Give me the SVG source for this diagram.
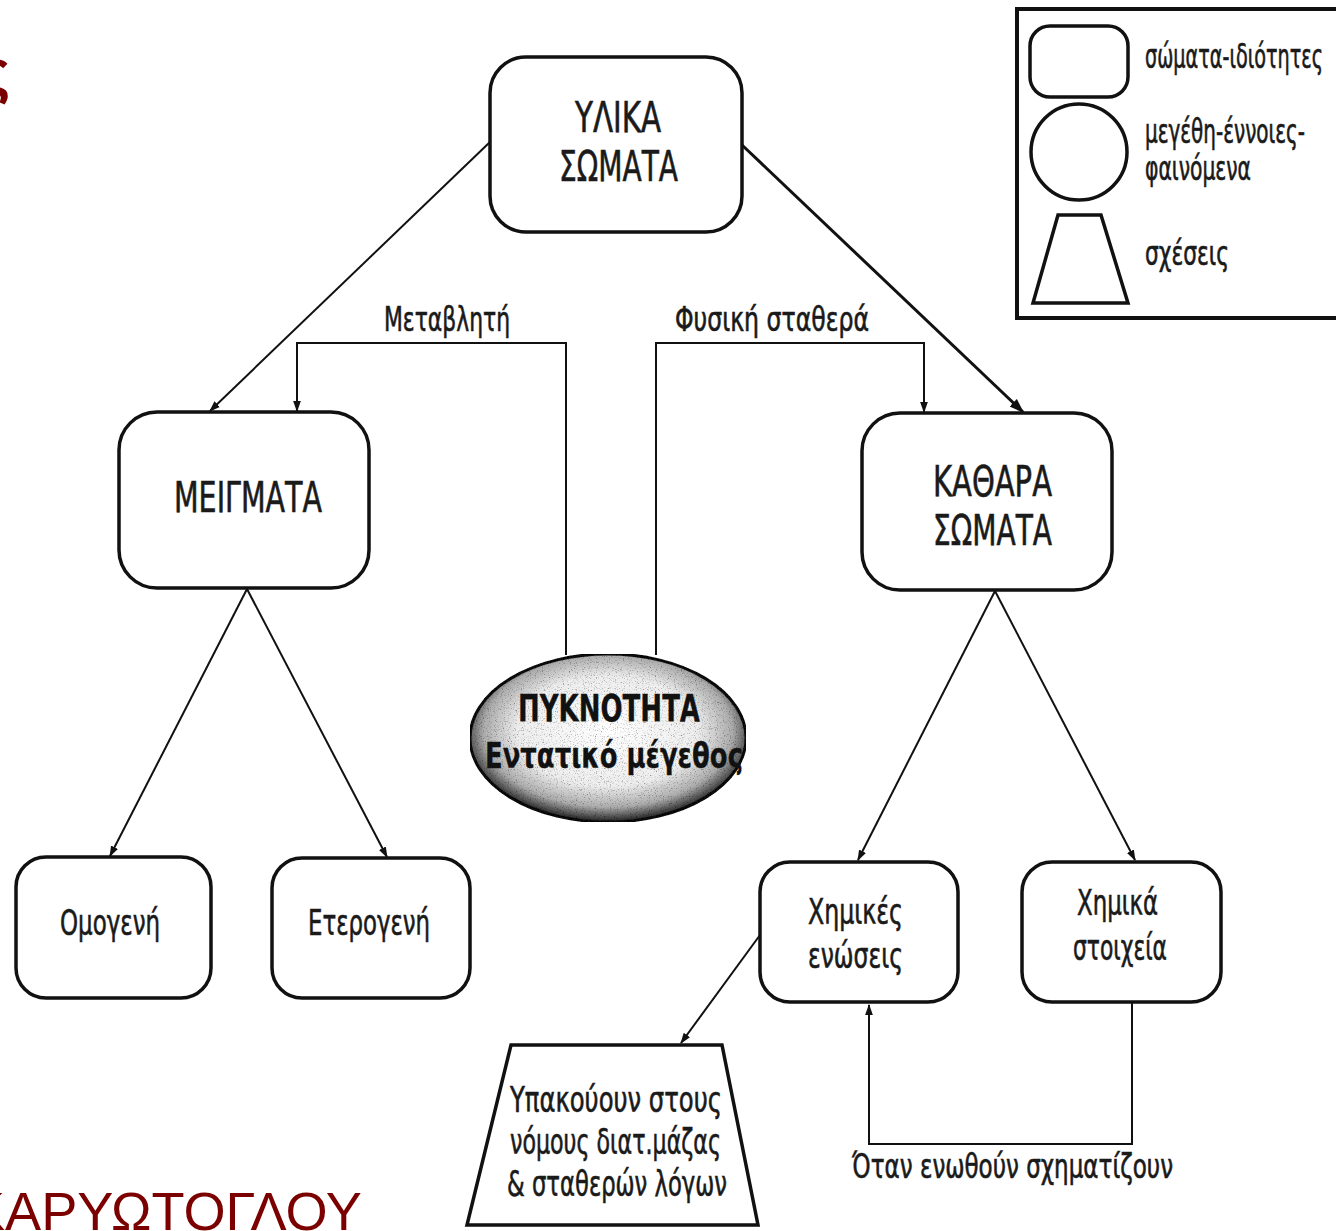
<svg xmlns="http://www.w3.org/2000/svg" width="1336" height="1231" viewBox="0 0 1336 1231">
  <style>
    .box { fill: #fff; stroke: #111; stroke-width: 3.5; }
    .lbl { font-family: "Liberation Sans Narrow", "DejaVu Sans Condensed", "Liberation Sans", sans-serif; fill: #1a1a1a; stroke: #1a1a1a; stroke-width: 0.6; text-anchor: start; }
    .big { font-size: 42px; }
    .mid { font-size: 36px; }
    .sm { font-size: 33px; }
    .bold { font-weight: bold; fill: #111; stroke-width: 0.3; }
    .conn { fill: none; stroke: #111; stroke-width: 2; }
    .conn-thick { fill: none; stroke: #111; stroke-width: 3; }
    .red { font-family: "Liberation Sans", Arial, sans-serif; fill: #7b0000; }
  </style>
  <defs>
    <marker id="arr" viewBox="0 0 10 10" refX="9" refY="5" markerWidth="11" markerHeight="11" orient="auto" markerUnits="userSpaceOnUse">
      <path d="M0,1.5 L10,5 L0,8.5 z" fill="#111"/>
    </marker>
    <marker id="arrB" viewBox="0 0 10 10" refX="9" refY="5" markerWidth="15" markerHeight="15" orient="auto" markerUnits="userSpaceOnUse">
      <path d="M0,1.5 L10,5 L0,8.5 z" fill="#111"/>
    </marker>
    <radialGradient id="shade" cx="50%" cy="46%" r="53%">
      <stop offset="0" stop-color="#ffffff"/>
      <stop offset="0.62" stop-color="#ededed"/>
      <stop offset="0.85" stop-color="#acacac"/>
      <stop offset="1" stop-color="#2e2e2e"/>
    </radialGradient>
    <filter id="grain" x="0" y="0" width="100%" height="100%">
      <feTurbulence type="fractalNoise" baseFrequency="0.85" numOctaves="2" seed="4" result="n"/>
      <feColorMatrix in="n" type="matrix" values="0 0 0 0 0  0 0 0 0 0  0 0 0 0 0  2.2 0 0 0 -1.2" result="specks"/>
      <feComposite in="specks" in2="SourceGraphic" operator="in" result="s2"/>
      <feMerge><feMergeNode in="SourceGraphic"/><feMergeNode in="s2"/></feMerge>
    </filter>
  </defs>

  <rect width="1336" height="1231" fill="#fff"/>

  <!-- partial title letter and author name in the slide corners -->
  <text class="red" x="-22" y="92" font-size="62" font-weight="bold">ς</text>
  <text class="red" x="-31" y="1230" font-size="54" textLength="393" lengthAdjust="spacingAndGlyphs">ΚΑΡΥΩΤΟΓΛΟΥ</text>

  <!-- connectors -->
  <g id="connectors">
    <line class="conn" x1="490" y1="142" x2="210" y2="411" marker-end="url(#arr)"/>
    <line class="conn-thick" x1="742" y1="145" x2="1023" y2="412" marker-end="url(#arrB)"/>
    <path class="conn" d="M566,655 V343 H297 V411" marker-end="url(#arr)"/>
    <path class="conn" d="M656,655 V343 H924 V412" marker-end="url(#arr)"/>
    <line class="conn" x1="247" y1="589" x2="110" y2="856" marker-end="url(#arr)"/>
    <line class="conn" x1="247" y1="589" x2="387" y2="857" marker-end="url(#arr)"/>
    <line class="conn" x1="995" y1="591" x2="858" y2="860" marker-end="url(#arr)"/>
    <line class="conn" x1="995" y1="591" x2="1135" y2="860" marker-end="url(#arr)"/>
    <line class="conn" x1="760" y1="935" x2="681" y2="1043" marker-end="url(#arr)"/>
    <path class="conn" d="M1132,1003 V1144 H869 V1005" marker-end="url(#arr)"/>
    <text class="lbl sm" x="384" y="331" textLength="126" lengthAdjust="spacingAndGlyphs">Μεταβλητή</text>
    <text class="lbl sm" x="675" y="331" textLength="194" lengthAdjust="spacingAndGlyphs">Φυσική σταθερά</text>
    <text class="lbl sm" x="852" y="1178" textLength="321" lengthAdjust="spacingAndGlyphs">Όταν ενωθούν σχηματίζουν</text>
  </g>

  <!-- nodes -->
  <g id="ylika-somata">
    <rect class="box" x="490" y="57" width="252" height="175" rx="36"/>
    <text class="lbl big" x="575" y="132" textLength="86" lengthAdjust="spacingAndGlyphs">ΥΛΙΚΑ</text>
    <text class="lbl big" x="559" y="181" textLength="119" lengthAdjust="spacingAndGlyphs">ΣΩΜΑΤΑ</text>
  </g>

  <g id="meigmata">
    <rect class="box" x="119" y="412" width="250" height="176" rx="38"/>
    <text class="lbl big" x="174" y="512" textLength="148" lengthAdjust="spacingAndGlyphs">ΜΕΙΓΜΑΤΑ</text>
  </g>

  <g id="kathara-somata">
    <rect class="box" x="862" y="413" width="250" height="177" rx="38"/>
    <text class="lbl big" x="933" y="496" textLength="119" lengthAdjust="spacingAndGlyphs">ΚΑΘΑΡΑ</text>
    <text class="lbl big" x="933" y="545" textLength="119" lengthAdjust="spacingAndGlyphs">ΣΩΜΑΤΑ</text>
  </g>

  <g id="pyknotita">
    <ellipse cx="608" cy="738" rx="138" ry="84" fill="url(#shade)" stroke="#111" stroke-width="3" filter="url(#grain)"/>
    <text class="lbl bold" x="518" y="721" font-size="38" textLength="182" lengthAdjust="spacingAndGlyphs">ΠΥΚΝΟΤΗΤΑ</text>
    <text class="lbl bold" x="485" y="768" font-size="36" textLength="258" lengthAdjust="spacingAndGlyphs">Εντατικό μέγεθος</text>
  </g>

  <g id="omogeni">
    <rect class="box" x="16" y="857" width="195" height="141" rx="30"/>
    <text class="lbl mid" x="60" y="935" textLength="100" lengthAdjust="spacingAndGlyphs">Ομογενή</text>
  </g>

  <g id="eterogeni">
    <rect class="box" x="272" y="858" width="198" height="140" rx="30"/>
    <text class="lbl mid" x="308" y="935" textLength="122" lengthAdjust="spacingAndGlyphs">Ετερογενή</text>
  </g>

  <g id="chimikes-enoseis">
    <rect class="box" x="760" y="862" width="198" height="140" rx="30"/>
    <text class="lbl mid" x="808" y="924" textLength="95" lengthAdjust="spacingAndGlyphs">Χημικές</text>
    <text class="lbl mid" x="808" y="968" textLength="95" lengthAdjust="spacingAndGlyphs">ενώσεις</text>
  </g>

  <g id="chimika-stoicheia">
    <rect class="box" x="1022" y="862" width="199" height="140" rx="30"/>
    <text class="lbl mid" x="1077" y="915" textLength="81" lengthAdjust="spacingAndGlyphs">Χημικά</text>
    <text class="lbl mid" x="1073" y="960" textLength="94" lengthAdjust="spacingAndGlyphs">στοιχεία</text>
  </g>

  <g id="nomoi">
    <polygon class="box" points="511,1045 722,1045 758,1225 467,1225"/>
    <text class="lbl mid" x="510" y="1112" textLength="212" lengthAdjust="spacingAndGlyphs">Υπακούουν στους</text>
    <text class="lbl mid" x="510" y="1154" textLength="211" lengthAdjust="spacingAndGlyphs">νόμους διατ.μάζας</text>
    <text class="lbl mid" x="507" y="1196" textLength="220" lengthAdjust="spacingAndGlyphs">&amp; σταθερών λόγων</text>
  </g>

  <!-- legend -->
  <g id="legend">
    <rect x="1017" y="9" width="330" height="309" fill="#fff" stroke="#111" stroke-width="4"/>
    <rect class="box" x="1030" y="26" width="98" height="71" rx="20" stroke-width="3"/>
    <circle class="box" cx="1079" cy="152" r="48" stroke-width="3"/>
    <polygon class="box" points="1058,215 1101,215 1128,303 1033,303" stroke-width="3"/>
    <text class="lbl sm" x="1145" y="68" textLength="178" lengthAdjust="spacingAndGlyphs">σώματα-ιδιότητες</text>
    <text class="lbl sm" x="1145" y="143" textLength="160" lengthAdjust="spacingAndGlyphs">μεγέθη-έννοιες-</text>
    <text class="lbl sm" x="1145" y="180" textLength="106" lengthAdjust="spacingAndGlyphs">φαινόμενα</text>
    <text class="lbl sm" x="1145" y="265" textLength="84" lengthAdjust="spacingAndGlyphs">σχέσεις</text>
  </g>
</svg>
